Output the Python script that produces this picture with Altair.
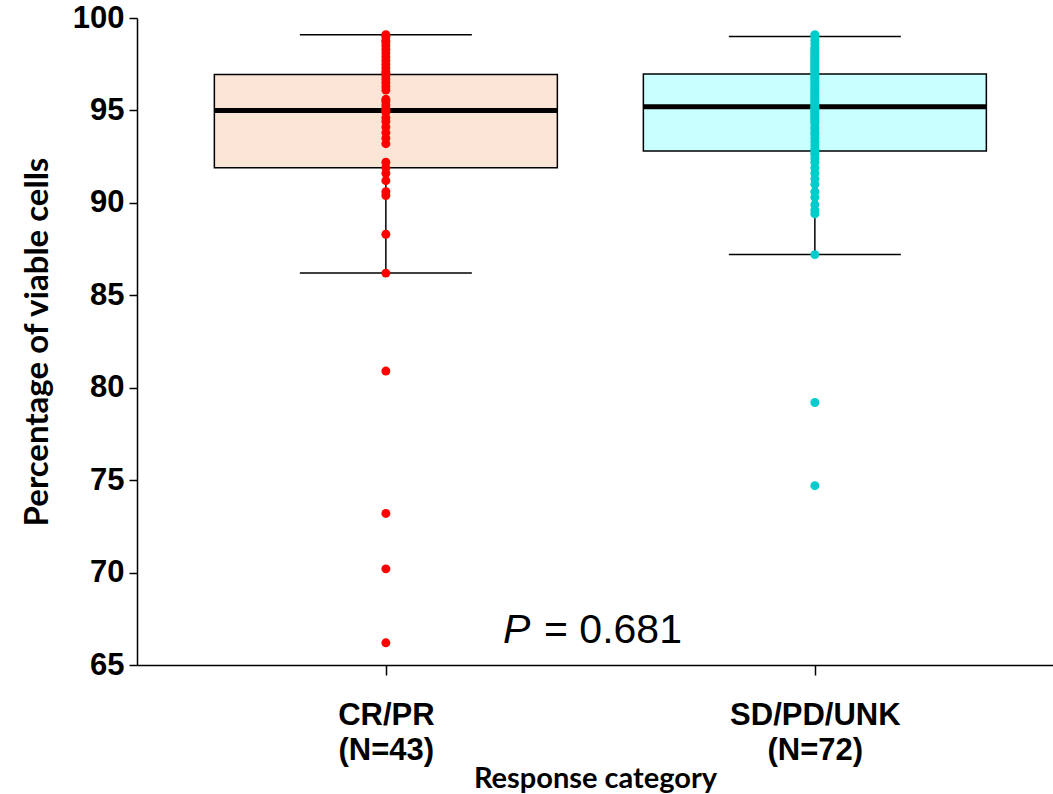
import altair as alt
import pandas as pd

# ---- data ----
categories = ["CR/PR", "SD/PD/UNK"]
n_labels = ["(N=43)", "(N=72)"]

q1 = [91.9, 92.8]
median = [95.0, 95.2]
q3 = [96.95, 96.97]
whisker_low = [86.2, 87.2]
whisker_high = [99.1, 99.0]

box_fill = ["#FBE5D6", "#C9FFFF"]
point_color = ["#FF0000", "#00CCCC"]

crpr_values = [66.2, 70.2, 73.2, 80.9, 86.2, 88.3, 90.4, 90.6, 91.2, 91.6,
               91.9, 92.2, 93.2, 93.5, 93.8, 94.1, 94.4, 94.6, 94.9, 95.0,
               95.0, 95.1, 95.3, 95.5, 95.6, 96.1, 96.3, 96.5, 96.7, 96.9,
               97.0, 97.1, 97.3, 97.5, 97.7, 97.9, 98.1, 98.3, 98.5, 98.7,
               98.8, 99.0, 99.1]
sdpd_values = [74.7, 79.2, 87.2, 89.4, 89.6, 89.9, 90.3, 90.6, 91.0, 91.3,
               91.6, 91.9, 92.2, 92.4, 92.6, 92.7, 92.8, 92.9,
               93.1, 93.3, 93.5, 93.7, 93.8, 94.0, 94.1, 94.3, 94.4, 94.5,
               94.6, 94.7, 94.8, 94.9, 95.0, 95.1, 95.1, 95.2,
               95.3, 95.4, 95.5, 95.6, 95.7, 95.8, 95.9, 96.0, 96.1, 96.2,
               96.3, 96.4, 96.5, 96.6, 96.7, 96.8, 96.9, 97.0,
               97.1, 97.2, 97.3, 97.4, 97.5, 97.6, 97.7, 97.8, 97.9, 98.0,
               98.1, 98.2, 98.3, 98.4, 98.6, 98.8, 99.0, 99.1]

p_value = "0.681"
y_ticks = [65, 70, 75, 80, 85, 90, 95, 100]

# ---- tables ----
labels = [f"{c}\n{n}" for c, n in zip(categories, n_labels)]
stats = pd.DataFrame({
    "cat": labels, "q1": q1, "median": median, "q3": q3,
    "lo": whisker_low, "hi": whisker_high,
})
points = pd.DataFrame({
    "cat": [labels[0]] * len(crpr_values) + [labels[1]] * len(sdpd_values),
    "value": crpr_values + sdpd_values,
})

xscale = alt.Scale(type="point", domain=labels, padding=0.5676, align=0.511)
yscale = alt.Scale(domain=[65, 100], nice=False, zero=False)

x_enc = alt.X("cat:N", scale=xscale, sort=labels, title="Response category",
              axis=alt.Axis(labelExpr="split(datum.label, '\\n')", labelAngle=0,
                            tickSize=10, labelPadding=25, labelFontSize=31,
                            labelFont="Liberation Sans", labelFontWeight="bold",
                            labelLineHeight=35, labelColor="black",
                            titleFont="Lato", titleFontSize=29, titleFontWeight="bold",
                            titlePadding=-1, titleColor="black",
                            domainColor="black", tickColor="black",
                            domainWidth=1.5, tickWidth=1.5))

y_axis = alt.Axis(values=y_ticks, tickSize=8, labelPadding=5, labelFontSize=31,
                  labelFont="Liberation Sans", labelFontWeight="bold",
                  labelColor="black", title="Percentage of viable cells",
                  titleFont="Lato", titleFontSize=33, titleFontWeight="bold",
                  titleColor="black", titlePadding=18,
                  domainColor="black", tickColor="black",
                  domainWidth=1.5, tickWidth=1.5, grid=False)

base = alt.Chart(stats)

box = base.mark_bar(size=343, stroke="black", strokeWidth=1.5, opacity=1).encode(
    x=x_enc,
    y=alt.Y("q1:Q", scale=yscale, axis=y_axis),
    y2="q3:Q",
    fill=alt.Fill("cat:N", scale=alt.Scale(domain=labels, range=box_fill), legend=None),
)

whisk_hi = base.mark_rule(color="black", strokeWidth=1.5, opacity=1).encode(
    x=alt.X("cat:N", scale=xscale), y=alt.Y("q3:Q", scale=yscale), y2="hi:Q")
whisk_lo = base.mark_rule(color="black", strokeWidth=1.5, opacity=1).encode(
    x=alt.X("cat:N", scale=xscale), y=alt.Y("lo:Q", scale=yscale), y2="q1:Q")

cap_hi = base.mark_tick(color="black", size=172, thickness=1.5, orient="horizontal", opacity=1).encode(
    x=alt.X("cat:N", scale=xscale), y=alt.Y("hi:Q", scale=yscale))
cap_lo = base.mark_tick(color="black", size=172, thickness=1.5, orient="horizontal", opacity=1).encode(
    x=alt.X("cat:N", scale=xscale), y=alt.Y("lo:Q", scale=yscale))

med = base.mark_tick(color="black", size=343, thickness=5, orient="horizontal", opacity=1).encode(
    x=alt.X("cat:N", scale=xscale), y=alt.Y("median:Q", scale=yscale))

dots = alt.Chart(points).mark_circle(size=80, opacity=1).encode(
    x=alt.X("cat:N", scale=xscale),
    y=alt.Y("value:Q", scale=yscale),
    color=alt.Color("cat:N", scale=alt.Scale(domain=labels, range=point_color), legend=None),
)

p_italic = alt.Chart(pd.DataFrame({"t": ["P"]})).mark_text(
    font="Liberation Sans", fontSize=41, fontStyle="italic", align="left",
    baseline="alphabetic", color="black").encode(
    text="t:N", x=alt.value(366), y=alt.value(625))
p_rest = alt.Chart(pd.DataFrame({"t": ["= " + p_value]})).mark_text(
    font="Liberation Sans", fontSize=41, align="left",
    baseline="alphabetic", color="black").encode(
    text="t:N", x=alt.value(407), y=alt.value(625))

chart = alt.layer(box, whisk_hi, whisk_lo, cap_hi, cap_lo, med, dots, p_italic, p_rest).resolve_scale(
    color="independent", fill="independent"
).properties(
    width=916, height=647,
    autosize=alt.AutoSizeParams(type="none"),
    padding={"left": 137, "top": 18, "right": 0, "bottom": 129},
    background="white",
).configure_view(stroke=None)

chart.save("out.html", embed_options={"renderer": "svg", "actions": False})
